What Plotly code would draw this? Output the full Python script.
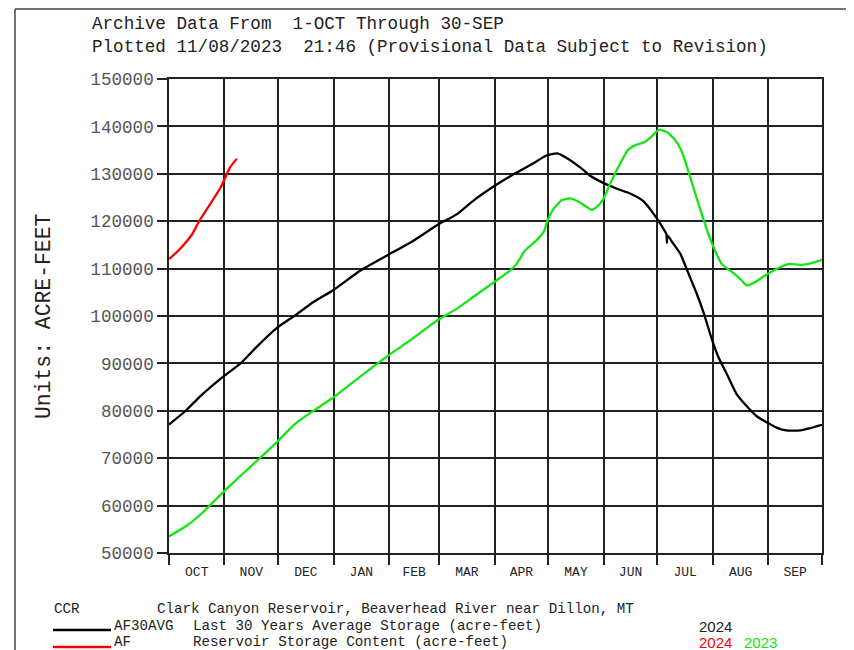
import plotly.graph_objects as go

# ---- data (day of water year, starting 1-OCT) ----
month_names = ["OCT", "NOV", "DEC", "JAN", "FEB", "MAR", "APR", "MAY", "JUN", "JUL", "AUG", "SEP"]
month_starts = [0, 31, 61, 92, 123, 151, 182, 212, 243, 273, 304, 335, 365]
month_mids = [15.5, 46, 76.5, 107.5, 137, 166.5, 197, 227.5, 258, 288.5, 319.5, 350]

avg_days = [0, 9, 17, 31, 40, 49, 60, 70, 81, 92, 107, 123, 135, 150, 161, 170, 181, 194,
            204, 211, 217, 222, 230, 235, 241, 250, 258, 265, 271, 275.4, 278.0, 278.3, 278.6,
            282, 286, 290, 295, 299, 303, 307, 312, 317, 323, 328.5, 334, 340, 345, 353, 358, 365]
avg_vals = [77100, 79900, 82900, 87400, 90000, 93500, 97400, 100000, 103000, 105500, 109600,
            113000, 115500, 119200, 121500, 124300, 127200, 130200, 132300, 133850, 134300,
            133400, 131300, 129700, 128400, 126900, 125800, 124300, 121500, 119000, 117300,
            115400, 117000, 115200, 113000, 109300, 104700, 100500, 95600, 91400, 87600,
            83700, 80950, 78850, 77600, 76400, 75850, 75850, 76300, 77050]

wy2023_days = [0, 10, 19, 31, 40, 51, 60, 70, 79, 92, 107, 123, 135, 150, 161, 170, 181,
               190.6, 194.3, 199, 205.5, 209.6, 211.5, 214.8, 219.5, 224, 228, 232.5, 236.3,
               239.1, 242.8, 246, 251, 256.7, 261.4, 266, 269.8, 274, 278.2, 282.8, 286.6,
               290.3, 294, 297.8, 301.5, 305.2, 308.9, 315.5, 319.2, 322.9, 327.6, 333.2,
               341.5, 347.1, 352.7, 357.4, 361.1, 365]
wy2023_vals = [53500, 55800, 58600, 63100, 66300, 70100, 73300, 77100, 79550, 82850, 87250,
               91800, 94900, 99100, 101550, 104000, 106950, 109600, 111000, 113800, 116000,
               117850, 120100, 122500, 124400, 124800, 124300, 123250, 122400, 123000, 124650,
               127400, 131300, 135100, 136150, 136700, 137900, 139300, 138800, 137200, 134750,
               130550, 126000, 121500, 117300, 113800, 111000, 109050, 107850, 106450, 107150,
               108550, 110300, 111000, 110800, 111000, 111350, 111850]

wy2024_days = [0, 6, 13, 17, 23, 28.5, 31, 34, 38]
wy2024_vals = [112000, 114100, 117300, 120100, 123600, 126900, 128800, 131300, 133200]

y_ticks = [50000, 60000, 70000, 80000, 90000, 100000, 110000, 120000, 130000, 140000, 150000]

GREEN = "#14e614"
MONO = "Liberation Mono"

fig = go.Figure()
fig.add_trace(go.Scatter(x=avg_days, y=avg_vals, mode="lines",
                         line=dict(color="#000000", width=2.3, shape="spline", smoothing=0.5),
                         name="AF30AVG"))
fig.add_trace(go.Scatter(x=wy2023_days, y=wy2023_vals, mode="lines",
                         line=dict(color=GREEN, width=2.3, shape="spline", smoothing=0.5),
                         name="AF 2023"))
fig.add_trace(go.Scatter(x=wy2024_days, y=wy2024_vals, mode="lines",
                         line=dict(color="#ff0000", width=2.3, shape="spline", smoothing=0.5),
                         name="AF 2024"))

# page pixel geometry (page body has an 8px margin)
OFF = 8
W, H = 854 - OFF, 650 - OFF
L, R, T, B = 169, 822, 79, 553   # plot area in page pixels


def px(x):
    return (x - L) / (R - L)


def py(y):
    return (B - y) / (B - T)


fig.update_layout(
    width=W, height=H,
    margin=dict(l=L - OFF, r=W - (R - OFF), t=T - OFF, b=H - (B - OFF), pad=0),
    paper_bgcolor="white", plot_bgcolor="white",
    showlegend=False,
    xaxis=dict(
        range=[0, 365], tickmode="array", tickvals=month_mids, ticktext=month_names,
        ticks="outside", ticklen=6, tickcolor="rgba(0,0,0,0)",
        tickfont=dict(family=MONO, size=13, color="#222"),
        showgrid=False, zeroline=False,
        showline=True, linecolor="#222", linewidth=1.5, mirror=True,
        minor=dict(tickmode="array", tickvals=month_starts, ticks="outside", ticklen=10,
                   tickcolor="#222", tickwidth=1.5, showgrid=True, gridcolor="#222",
                   gridwidth=1.5),
    ),
    yaxis=dict(
        range=[50000, 150000], tickmode="array", tickvals=y_ticks,
        ticktext=[str(v) for v in y_ticks],
        ticks="outside", ticklen=10, tickcolor="#222", tickwidth=1.5,
        tickfont=dict(family=MONO, size=17.6, color="#555"),
        showgrid=True, gridcolor="#222", gridwidth=1.5, zeroline=False,
        showline=True, linecolor="#222", linewidth=1.5, mirror=True,
    ),
)

ann = []


def text(x, y, s, size=17.6, color="#222", family=MONO, angle=0, xanchor="left"):
    ann.append(dict(x=px(x), y=py(y), xref="paper", yref="paper", text=s, showarrow=False,
                    xanchor=xanchor, yanchor="middle", textangle=angle,
                    font=dict(family=family, size=size, color=color)))


text(90, 24, "Archive Data From&nbsp;&nbsp;1-OCT Through 30-SEP")
text(90, 47, "Plotted 11/08/2023&nbsp;&nbsp;21:46 (Provisional Data Subject to Revision)")
text(44, 316, "Units: ACRE-FEET", size=21.4, angle=-90, xanchor="center")

LS = 14.2
text(52, 609, "CCR", size=LS)
text(155, 609, "Clark Canyon Reservoir, Beaverhead River near Dillon, MT", size=LS)
text(112, 626, "AF30AVG", size=LS)
text(191, 626, "Last 30 Years Average Storage (acre-feet)", size=LS)
text(697, 626, "2024", size=15, family="Liberation Sans")
text(112, 642, "AF", size=LS)
text(191, 642, "Reservoir Storage Content (acre-feet)", size=LS)
text(697, 642, "2024", size=15, family="Liberation Sans", color="#ff0000")
text(742, 642, "2023", size=15, family="Liberation Sans", color=GREEN)
fig.update_layout(annotations=ann)

shapes = [
    dict(type="line", xref="paper", yref="paper", x0=px(53), x1=px(111), y0=py(630), y1=py(630),
         line=dict(color="#000000", width=2.5)),
    dict(type="line", xref="paper", yref="paper", x0=px(53), x1=px(111), y0=py(647), y1=py(647),
         line=dict(color="#ff0000", width=2.5)),
    # outer frame
    dict(type="line", xref="paper", yref="paper", x0=px(15), x1=px(870), y0=py(9), y1=py(9),
         line=dict(color="#444", width=1.5)),
    dict(type="line", xref="paper", yref="paper", x0=px(15), x1=px(15), y0=py(9), y1=py(670),
         line=dict(color="#444", width=1.5)),
]
fig.update_layout(shapes=shapes)

fig.write_html("out.html")
